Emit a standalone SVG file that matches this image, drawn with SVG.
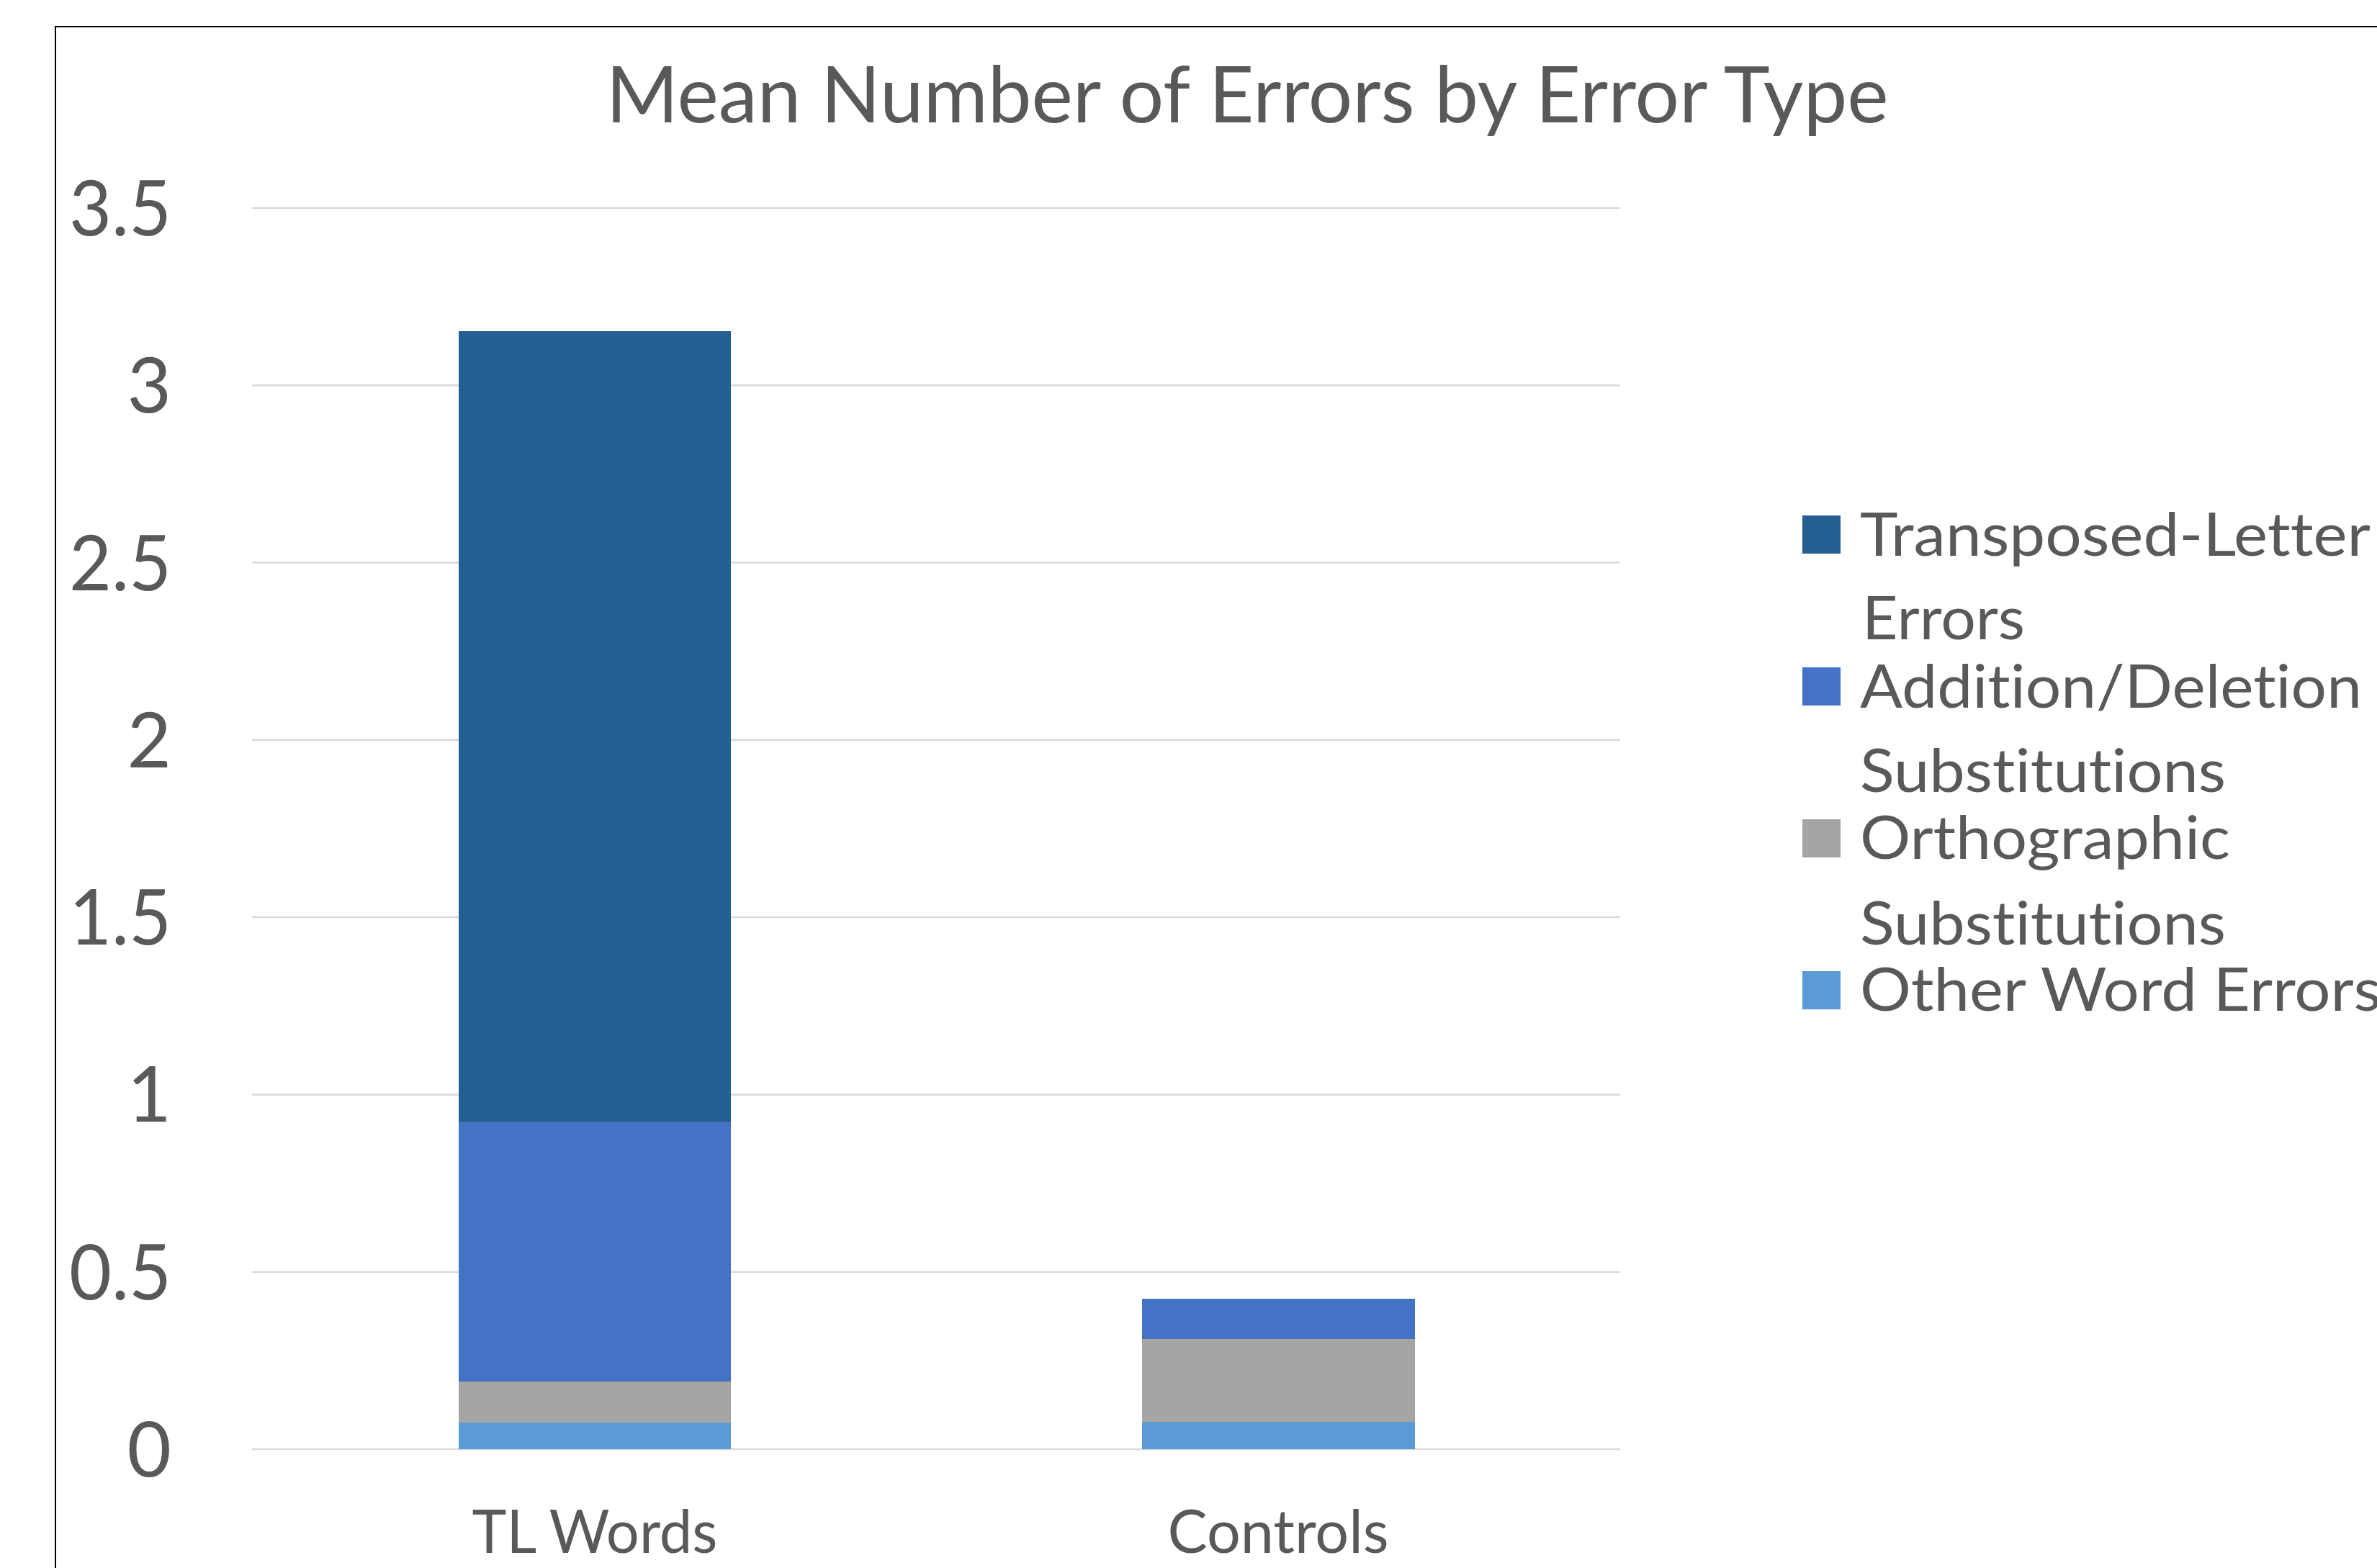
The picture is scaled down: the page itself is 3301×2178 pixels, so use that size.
<svg xmlns="http://www.w3.org/2000/svg" width="3301" height="2178" viewBox="0 0 3301 2178">
  <style>
    .txt { font-family: Lato, "Open Sans", "Liberation Sans", sans-serif; fill: #595959; font-variant-ligatures: none; font-feature-settings: "liga" 0, "clig" 0, "dlig" 0; }
    .title { font-size: 108px; }
    .tick { font-size: 106px; text-anchor: end; }
    .cat { font-size: 84px; text-anchor: middle; }
    .leg { font-size: 84px; }
    .grid { stroke: #d9d9d9; stroke-width: 2.5; fill: none; }
    .s-tl { fill: #255e91; }
    .s-ad { fill: #4472c4; }
    .s-or { fill: #a5a5a5; }
    .s-ow { fill: #5b9bd5; }
  </style>

  <!-- background and chart frame -->
  <rect x="0" y="0" width="3301" height="2178" fill="#ffffff"/>
  <rect x="77" y="37" width="3400" height="2300" fill="none" stroke="#000000" stroke-width="2"/>

  <!-- title -->
  <text class="txt title" x="1732" y="170" text-anchor="middle" textLength="1781" lengthAdjust="spacingAndGlyphs">Mean Number of Errors by Error Type</text>

  <!-- horizontal gridlines: y = 2013 - 492.6 * value -->
  <g id="gridlines">
    <line class="grid" x1="350" y1="2013" x2="2250" y2="2013"/>
    <line class="grid" x1="350" y1="1766.7" x2="2250" y2="1766.7"/>
    <line class="grid" x1="350" y1="1520.4" x2="2250" y2="1520.4"/>
    <line class="grid" x1="350" y1="1274.1" x2="2250" y2="1274.1"/>
    <line class="grid" x1="350" y1="1027.8" x2="2250" y2="1027.8"/>
    <line class="grid" x1="350" y1="781.5" x2="2250" y2="781.5"/>
    <line class="grid" x1="350" y1="535.2" x2="2250" y2="535.2"/>
    <line class="grid" x1="350" y1="288.9" x2="2250" y2="288.9"/>
  </g>

  <!-- value axis labels -->
  <g id="y-axis">
    <text class="txt tick" x="238" y="2051">0</text>
    <text class="txt tick" x="238" y="1805" textLength="142" lengthAdjust="spacingAndGlyphs">0.5</text>
    <text class="txt tick" x="238" y="1558">1</text>
    <text class="txt tick" x="238" y="1312" textLength="142" lengthAdjust="spacingAndGlyphs">1.5</text>
    <text class="txt tick" x="238" y="1066">2</text>
    <text class="txt tick" x="238" y="820" textLength="142" lengthAdjust="spacingAndGlyphs">2.5</text>
    <text class="txt tick" x="238" y="573">3</text>
    <text class="txt tick" x="238" y="327" textLength="142" lengthAdjust="spacingAndGlyphs">3.5</text>
  </g>

  <!-- stacked bar: TL Words -->
  <g id="bar-tl-words">
    <rect class="s-ow" x="637" y="1976" width="378" height="37"/>
    <rect class="s-or" x="637" y="1919" width="378" height="57"/>
    <rect class="s-ad" x="637" y="1558" width="378" height="361"/>
    <rect class="s-tl" x="637" y="460" width="378" height="1098"/>
    <text class="txt cat" x="826" y="2157" textLength="341" lengthAdjust="spacingAndGlyphs">TL Words</text>
  </g>

  <!-- stacked bar: Controls -->
  <g id="bar-controls">
    <rect class="s-ow" x="1586" y="1975" width="379" height="38"/>
    <rect class="s-or" x="1586" y="1860" width="379" height="115"/>
    <rect class="s-ad" x="1586" y="1804" width="379" height="56"/>
    <text class="txt cat" x="1775" y="2157" textLength="307" lengthAdjust="spacingAndGlyphs">Controls</text>
  </g>

  <!-- legend (the t/i pairs are split into separate runs so no ligature forms) -->
  <g id="legend">
    <g id="legend-transposed">
      <rect class="s-tl" x="2503" y="716" width="53" height="53"/>
      <text class="txt leg" x="2583" y="772" textLength="709" lengthAdjust="spacingAndGlyphs">Transposed-Letter</text>
      <text class="txt leg" x="2586" y="888" textLength="226" lengthAdjust="spacingAndGlyphs">Errors</text>
    </g>
    <g id="legend-addition">
      <rect class="s-ad" x="2503" y="927" width="53" height="53"/>
      <text class="txt leg" x="2583" y="983" textLength="697" lengthAdjust="spacingAndGlyphs">Addit<tspan dx="0.1">ion/Deletion</tspan></text>
      <text class="txt leg" x="2583" y="1100" textLength="508" lengthAdjust="spacingAndGlyphs">Subst<tspan dx="0.1">itut</tspan><tspan dx="0.1">ions</tspan></text>
    </g>
    <g id="legend-orthographic">
      <rect class="s-or" x="2503" y="1138" width="53" height="53"/>
      <text class="txt leg" x="2583" y="1193" textLength="514" lengthAdjust="spacingAndGlyphs">Orthographic</text>
      <text class="txt leg" x="2583" y="1312" textLength="508" lengthAdjust="spacingAndGlyphs">Subst<tspan dx="0.1">itut</tspan><tspan dx="0.1">ions</tspan></text>
    </g>
    <g id="legend-other">
      <rect class="s-ow" x="2503" y="1349" width="53" height="53"/>
      <text class="txt leg" x="2583" y="1404" textLength="724" lengthAdjust="spacingAndGlyphs">Other Word Errors</text>
    </g>
  </g>
</svg>
